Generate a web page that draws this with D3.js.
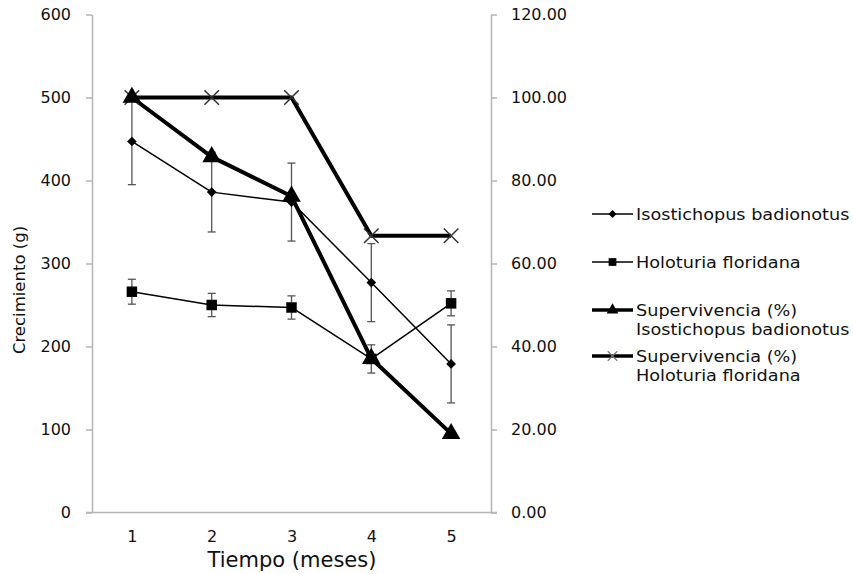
<!DOCTYPE html>
<html>
<head>
<meta charset="utf-8">
<script src="https://cdn.jsdelivr.net/npm/d3@7"></script>
<style>
  body { margin: 0; background: #fff; }
  text { font-family: "DejaVu Sans", sans-serif; fill: #111; }
</style>
</head>
<body>
<svg id="chart" width="853" height="574"></svg>
<script>
// data
const months = [1, 2, 3, 4, 5];
const isoGrowth = [447, 386, 374, 277, 179];
const isoErr = [52, 48, 47, 47, 47];
const holoGrowth = [266, 250, 247, 185, 252];
const holoErr = [15, 14, 14, 17, 15];
const survIso = [100, 85.7, 76.2, 37.1, 19.0];
const survHolo = [100, 100, 100, 66.7, 66.7];
const leftTicks = [0, 100, 200, 300, 400, 500, 600];
const rightTicks = [0, 20, 40, 60, 80, 100, 120];
const legendNames = [
  ["Isostichopus badionotus"],
  ["Holoturia floridana"],
  ["Supervivencia (%)", "Isostichopus badionotus"],
  ["Supervivencia (%)", "Holoturia floridana"]
];

const svg = d3.select("#chart");
const axisColor = "#b5b5b5";

const x = d3.scalePoint().domain(months).range([92, 491]).padding(0.5);
const yL = d3.scaleLinear().domain([0, 600]).range([512.5, 14.5]);
const yR = d3.scaleLinear().domain([0, 120]).range([512.5, 14.5]);

// axes
const gl = svg.append("g").attr("transform", "translate(92,0)")
  .call(d3.axisLeft(yL).tickValues(leftTicks).tickSize(6).tickSizeOuter(0).tickPadding(15));
const gr = svg.append("g").attr("transform", "translate(491,0)")
  .call(d3.axisRight(yR).tickValues(rightTicks).tickSize(6).tickSizeOuter(0).tickPadding(14).tickFormat(d3.format(".2f")));
const gb = svg.append("g").attr("transform", `translate(0,${yL(0)})`)
  .call(d3.axisBottom(x).tickSize(0).tickPadding(18));
gb.select(".domain").remove();
svg.append("line").attr("x1", 86).attr("x2", 497).attr("y1", yL(0)).attr("y2", yL(0))
  .attr("stroke", axisColor).attr("stroke-width", 1.5);

[gl, gr, gb].forEach(g => {
  g.selectAll(".domain, .tick line").attr("stroke", axisColor).attr("stroke-width", 1.5);
  g.selectAll("text").style("font-family", "DejaVu Sans").style("font-size", "16px").attr("fill", "#111");
});

// axis titles
svg.append("text").attr("x", 292).attr("y", 567).attr("text-anchor", "middle")
  .style("font-size", "21px").text("Tiempo (meses)");
svg.append("text").attr("transform", "translate(25,290) rotate(-90)").attr("text-anchor", "middle")
  .style("font-size", "16.5px").text("Crecimiento (g)");

// error bars
function errorBars(vals, errs) {
  const g = svg.append("g").attr("stroke", "#555").attr("stroke-width", 1.3);
  months.forEach((m, i) => {
    const cx = x(m), top = yL(vals[i] + errs[i]), bot = yL(vals[i] - errs[i]);
    g.append("line").attr("x1", cx).attr("x2", cx).attr("y1", top).attr("y2", bot);
    g.append("line").attr("x1", cx - 4).attr("x2", cx + 4).attr("y1", top).attr("y2", top);
    g.append("line").attr("x1", cx - 4).attr("x2", cx + 4).attr("y1", bot).attr("y2", bot);
  });
}
errorBars(isoGrowth, isoErr);
errorBars(holoGrowth, holoErr);

function drawLine(vals, scale, width) {
  const line = d3.line().x((d, i) => x(months[i])).y(d => scale(d));
  svg.append("path").datum(vals).attr("d", line)
    .attr("fill", "none").attr("stroke", "#000").attr("stroke-width", width)
    .attr("stroke-linejoin", "round");
}

const sym = {
  diamond: d3.symbol().type(d3.symbolDiamond2).size(60),
  square: d3.symbol().type(d3.symbolSquare).size(110),
  triangle: d3.symbol().type(d3.symbolTriangle).size(150),
  cross: d3.symbol().type(d3.symbolX).size(140)
};

function drawMarks(vals, scale, kind) {
  svg.append("g").selectAll("path").data(vals).join("path")
    .attr("transform", (d, i) => `translate(${x(months[i])},${scale(d)})`)
    .attr("d", sym[kind])
    .attr("fill", kind === "cross" ? "none" : "#000")
    .attr("stroke", kind === "cross" ? "#333" : "none")
    .attr("stroke-width", 1.5);
}

drawLine(isoGrowth, yL, 1.5);
drawLine(holoGrowth, yL, 1.5);
drawLine(survHolo, yR, 4);
drawLine(survIso, yR, 4);
drawMarks(isoGrowth, yL, "diamond");
drawMarks(holoGrowth, yL, "square");
drawMarks(survHolo, yR, "cross");
drawMarks(survIso, yR, "triangle");

// legend
const kinds = ["diamond", "square", "triangle", "cross"];
const widths = [1.5, 1.5, 3.5, 3.5];
const legY = [214, 262, 310, 356];
legendNames.forEach((names, i) => {
  const g = svg.append("g").attr("transform", `translate(592,${legY[i]})`);
  g.append("line").attr("x1", 0).attr("x2", 41).attr("stroke", "#000").attr("stroke-width", widths[i]);
  const s = d3.symbol().type(
    kinds[i] === "diamond" ? d3.symbolDiamond2 : kinds[i] === "square" ? d3.symbolSquare :
    kinds[i] === "triangle" ? d3.symbolTriangle : d3.symbolX).size(kinds[i] === "diamond" ? 40 : 60);
  g.append("path").attr("transform", "translate(20.5,0)").attr("d", s)
    .attr("fill", kinds[i] === "cross" ? "none" : "#000")
    .attr("stroke", kinds[i] === "cross" ? "#777" : "none").attr("stroke-width", 1.2);
  names.forEach((t, j) => {
    g.append("text").attr("transform", `translate(44,${6 + j * 18.5}) scale(1.14,1)`)
      .style("font-size", "15.5px").text(t);
  });
});
</script>
</body>
</html>
